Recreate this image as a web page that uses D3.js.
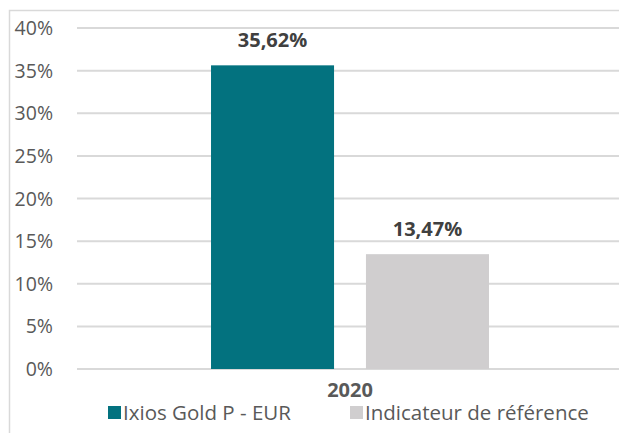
<!DOCTYPE html>
<html>
<head>
<meta charset="utf-8">
<script src="https://cdn.jsdelivr.net/npm/d3@7"></script>
<style>
  body { margin: 0; background: #fff; }
  text { font-family: "Open Sans", "Noto Sans", sans-serif; }
</style>
</head>
<body>
<div id="chart"></div>
<script>
// data
let categories = ["2020"];
let series = ["Ixios Gold P - EUR", "Indicateur de référence"];
let values = [35.62, 13.47];
let colors = ["#03727F", "#D0CECF"];
let yTicks = [0, 5, 10, 15, 20, 25, 30, 35, 40];

let fmt = v => d3.format(".2f")(v).replace(".", ",") + "%";

let width = 619, height = 433;
let margin = {top: 28, right: -4, bottom: 64, left: 77};

let svg = d3.select("#chart").append("svg")
    .attr("width", width).attr("height", height);

// outer frame
svg.append("rect")
    .attr("x", 9.5).attr("y", 10.5)
    .attr("width", 640).attr("height", 440)
    .attr("fill", "none").attr("stroke", "#D9D9D9").attr("stroke-width", 1.5);

let x0 = d3.scaleBand()
    .domain(categories)
    .range([margin.left, width - margin.right]);

let x1 = d3.scaleBand()
    .domain(series)
    .range([0, x0.bandwidth()])
    .paddingInner(0.206)
    .paddingOuter(0.865);

let y = d3.scaleLinear()
    .domain([0, 40])
    .range([height - margin.bottom, margin.top]);

// gridlines
svg.append("g")
    .selectAll("line")
    .data(yTicks)
    .enter()
    .append("line")
    .attr("x1", margin.left).attr("x2", width)
    .attr("y1", d => y(d)).attr("y2", d => y(d))
    .attr("stroke", "#D9D9D9").attr("stroke-width", 2);

// y tick labels
svg.append("g")
    .selectAll("text")
    .data(yTicks)
    .enter()
    .append("text")
    .attr("x", 53)
    .attr("y", d => y(d))
    .attr("dy", "0.36em")
    .attr("text-anchor", "end")
    .attr("font-size", "19.5px")
    .attr("fill", "#595959")
    .text(d => d + "%");

// bars
let g = svg.append("g")
    .attr("transform", "translate(" + x0(categories[0]) + ",0)");

g.selectAll("rect")
    .data(values)
    .enter()
    .append("rect")
    .attr("x", (d, i) => x1(series[i]))
    .attr("y", d => y(d))
    .attr("width", x1.bandwidth())
    .attr("height", d => y(0) - y(d))
    .attr("fill", (d, i) => colors[i]);

g.selectAll(".lbl")
    .data(values)
    .enter()
    .append("text")
    .attr("class", "lbl")
    .attr("x", (d, i) => x1(series[i]) + x1.bandwidth() / 2)
    .attr("y", d => y(d) - 18)
    .attr("text-anchor", "middle")
    .attr("font-size", "20px")
    .attr("font-weight", "bold")
    .attr("fill", "#404040")
    .text(d => fmt(d));

// category label
svg.append("text")
    .attr("x", x0(categories[0]) + x0.bandwidth() / 2)
    .attr("y", 397)
    .attr("text-anchor", "middle")
    .attr("font-size", "20px")
    .attr("font-weight", "bold")
    .attr("fill", "#595959")
    .text(categories[0]);

// legend
let legendX = [108, 350];
let leg = svg.append("g").selectAll("g")
    .data(series)
    .enter()
    .append("g")
    .attr("transform", (d, i) => "translate(" + legendX[i] + ",406)");

leg.append("rect")
    .attr("width", 13).attr("height", 13)
    .attr("fill", (d, i) => colors[i]);

leg.append("text")
    .attr("x", 15)
    .attr("y", 14)
    .attr("font-size", "20.5px")
    .attr("fill", "#595959")
    .text(d => d);
</script>
</body>
</html>
